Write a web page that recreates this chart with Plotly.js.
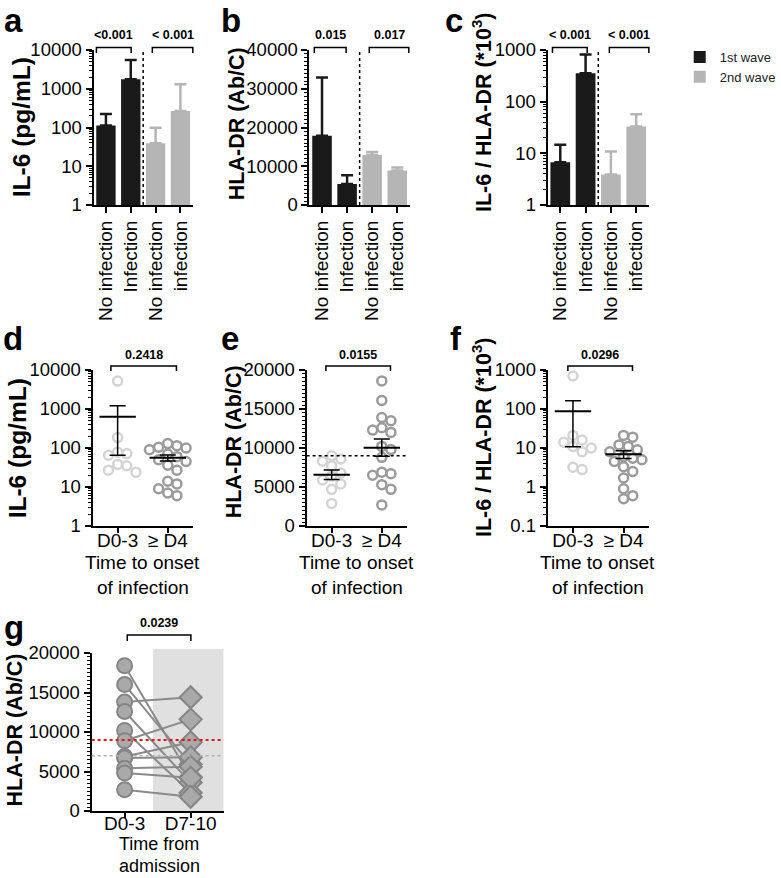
<!DOCTYPE html>
<html><head><meta charset="utf-8">
<script src="https://cdn.plot.ly/plotly-3.0.1.min.js"></script>
<style>html,body{margin:0;padding:0;background:#fff}</style>
</head><body><div id="chart" style="width:781px;height:878px"></div>
<script>
// ================= DATA =================
const barCategories = ['No infection', 'Infection', 'No infection', 'infection'];
const waveNames = ['1st wave', '2nd wave'];
// a: IL-6 (pg/mL), bar = mean, error = upper SD
const il6Wave1 = [112, 1750];
const il6Wave1Err = [110, 3750];
const il6Wave2 = [39, 267];
const il6Wave2Err = [60, 1030];
// b: HLA-DR (Ab/C)
const hlaWave1 = [17900, 5400];
const hlaWave1Err = [15000, 2300];
const hlaWave2 = [12900, 8900];
const hlaWave2Err = [800, 750];
// c: IL-6 / HLA-DR (*10^3)
const ratioWave1 = [6.7, 355];
const ratioWave1Err = [8, 460];
const ratioWave2 = [3.9, 33];
const ratioWave2Err = [7, 24];
const barPValues = {a: ['<0.001', '< 0.001'], b: ['0.015', '0.017'], c: ['< 0.001', '< 0.001']};

// d-f: time to onset of infection
const onsetCategories = ['D0-3', '≥ D4'];
const il6OnsetD03 = [5200, 185, 78, 72, 65, 38, 35, 27, 24];
const il6OnsetD4 = [130, 115, 105, 100, 90, 80, 70, 60, 50, 45, 36, 27, 14, 12, 9, 7, 6];
const hlaOnsetD03 = [9000, 8600, 8300, 7700, 6800, 6400, 5900, 5400, 4700, 2900];
const hlaOnsetD4 = [18600, 16100, 13900, 13500, 12600, 12300, 12000, 10200, 9800, 8800, 6900, 6700, 6500, 5300, 4700, 2700];
const ratioOnsetD03 = [700, 21, 16, 14, 11, 10, 8, 3.2, 2.8];
const ratioOnsetD4 = [21, 19, 12, 11, 9, 8, 6, 5.5, 5, 4.5, 3.3, 2.5, 1.7, 0.9, 0.6, 0.5];
const hlaOnsetThreshold = 9000;
const onsetPValues = {d: '0.2418', e: '0.0155', f: '0.0296'};

// g: paired, time from admission
const admissionCategories = ['D0-3', 'D7-10'];
const hlaAdmD03 = [18400, 16000, 13800, 12600, 10200, 8900, 6900, 6700, 5400, 4800, 2700];
const hlaAdmD710 = [4300, 5900, 14400, 3600, 2300, 11600, 8700, 6800, 5600, 4200, 1800];
const hlaRedThreshold = 9000;
const hlaGrayThreshold = 7000;
const admissionPValue = '0.0239';

// tick labels
const logTickVals = [0.1, 1, 10, 100, 1000, 10000];
const logTickText = ['0.1', '1', '10', '100', '1000', '10000'];

// ================= LAYOUT HELPERS =================
const W = 781, H = 878;
const px = x => x / W;
const py = y => 1 - y / H;
const xd = (l, r) => [px(l), px(r)];
const yd = (t, b) => [py(b), py(t)];
const FONT = '"Liberation Sans", Arial, Helvetica, sans-serif';
const BLACK = '#1a1a1a', GRAY = '#b5b5b5', LIGHT = '#d4d4d4', MID = '#9b9b9b';

function logMinor(lo, hi) {
  const out = [];
  for (let e = lo; e < hi; e++) for (let m = 2; m <= 9; m++) out.push(m * Math.pow(10, e));
  return out;
}
function baseAx(extra) {
  return Object.assign({showline: true, linecolor: '#000', linewidth: 2, ticks: 'outside', ticklen: 6,
    tickwidth: 2, tickcolor: '#000', showgrid: false, zeroline: false, fixedrange: true,
    tickfont: {size: 18.5, color: '#000', family: FONT}}, extra);
}
function logY(dom, anchor, lo, hi) {
  const tv = [], tt = [];
  logTickVals.forEach((v, i) => { const e = Math.log10(v); if (e >= lo - 1e-9 && e <= hi + 1e-9) { tv.push(v); tt.push(logTickText[i]); } });
  return baseAx({domain: dom, anchor, type: 'log', range: [lo, hi], tickmode: 'array', tickvals: tv, ticktext: tt,
    minor: {tickmode: 'array', tickvals: logMinor(lo, hi), ticks: 'outside', ticklen: 3, tickwidth: 1, tickcolor: '#000', showgrid: false}});
}
function linY(dom, anchor, top, dtick, mdtick) {
  return baseAx({domain: dom, anchor, range: [0, top], dtick, tick0: 0, tickformat: 'd',
    minor: {dtick: mdtick, tick0: 0, ticks: 'outside', ticklen: 3, tickwidth: 1, tickcolor: '#000', showgrid: false}});
}
function catX(dom, anchor, labels, extra) {
  return baseAx(Object.assign({domain: dom, anchor, range: [-0.5, labels.length - 0.5], tickmode: 'array',
    tickvals: labels.map((_, i) => i), ticktext: labels, tickfont: {size: 19, color: '#000', family: FONT}}, extra));
}

const mean = a => a.reduce((s, v) => s + v, 0) / a.length;
const sem = a => { const m = mean(a); return Math.sqrt(a.reduce((s, v) => s + (v - m) * (v - m), 0) / (a.length - 1)) / Math.sqrt(a.length); };

function swarm(values, center, toPx, unitPx, diam) {
  const order = values.map((v, i) => i).sort((a, b) => values[b] - values[a]);
  const placed = [], xs = new Array(values.length), step = diam * 0.5;
  for (const i of order) {
    const y = toPx(values[i]);
    let off = 0;
    for (let k = 0; k < 60; k++) {
      const cand = (k % 2 === 1 ? 1 : -1) * Math.ceil(k / 2) * step;
      if (placed.every(p => (p.x - cand) ** 2 + (p.y - y) ** 2 >= diam * diam)) { off = cand; break; }
    }
    placed.push({x: off, y});
    xs[i] = center + off / unitPx;
  }
  return xs;
}

// ================= PANEL GEOMETRY (px) =================
const G = {
  a: {x: [97, 200], y: [50, 205]}, b: {x: [321, 425], y: [50, 205]}, c: {x: [568, 673], y: [50, 205]},
  d: {x: [96, 200], y: [370, 526]}, e: {x: [318, 422], y: [370, 526]}, f: {x: [568, 673], y: [370, 526]},
  g: {x: [95, 232], y: [653, 811]}
};
const lowX = {ticklabelstandoff: -9, ticklen: 5};

const layout = {
  width: W, height: H, margin: {l: 0, r: 0, t: 0, b: 0}, paper_bgcolor: '#fff', plot_bgcolor: 'rgba(0,0,0,0)',
  font: {family: FONT, color: '#000'}, barmode: 'overlay', showlegend: true,
  legend: {x: px(705), y: py(42), xanchor: 'left', yanchor: 'top', font: {size: 13, color: '#222', family: FONT},
    bgcolor: 'rgba(0,0,0,0)', tracegroupgap: 0, itemwidth: 30},
  xaxis: catX(xd(...G.a.x), 'y', barCategories, {tickangle: -90}),
  yaxis: logY(yd(...G.a.y), 'x', 0, 4),
  xaxis2: catX(xd(...G.b.x), 'y2', barCategories, {tickangle: -90}),
  yaxis2: linY(yd(...G.b.y), 'x2', 40000, 10000, 1000),
  xaxis3: catX(xd(...G.c.x), 'y3', barCategories, {tickangle: -90}),
  yaxis3: logY(yd(...G.c.y), 'x3', 0, 3),
  xaxis4: catX(xd(...G.d.x), 'y4', onsetCategories, lowX),
  yaxis4: logY(yd(...G.d.y), 'x4', 0, 4),
  xaxis5: catX(xd(...G.e.x), 'y5', onsetCategories, lowX),
  yaxis5: linY(yd(...G.e.y), 'x5', 20000, 5000, 500),
  xaxis6: catX(xd(...G.f.x), 'y6', onsetCategories, lowX),
  yaxis6: logY(yd(...G.f.y), 'x6', -1, 3),
  xaxis7: catX(xd(...G.g.x), 'y7', admissionCategories, {ticklabelstandoff: -11, ticklen: 5}),
  yaxis7: linY(yd(...G.g.y), 'x7', 20000, 5000, 500),
  shapes: [], annotations: []
};

// ================= TRACES =================
const traces = [];
function bars(xa, ya, w1, e1, w2, e2, leg) {
  const idx = barCategories.map((_, i) => i);
  [[w1, e1, BLACK, idx.slice(0, 2), waveNames[0]], [w2, e2, GRAY, idx.slice(2, 4), waveNames[1]]].forEach(([v, e, col, xs, nm]) => {
    traces.push({type: 'bar', x: xs, y: v, xaxis: xa, yaxis: ya, width: 0.78, name: nm, legendgroup: nm, showlegend: leg,
      marker: {color: col, line: {width: 0}}, hoverinfo: 'skip',
      error_y: {type: 'data', symmetric: false, array: e, arrayminus: e.map(() => 0), color: col, thickness: 2.5, width: 6}});
  });
}
bars('x', 'y', il6Wave1, il6Wave1Err, il6Wave2, il6Wave2Err, false);
bars('x2', 'y2', hlaWave1, hlaWave1Err, hlaWave2, hlaWave2Err, false);
bars('x3', 'y3', ratioWave1, ratioWave1Err, ratioWave2, ratioWave2Err, true);

function onset(key, xa, ya, d03, d4, isLog, lo, hi) {
  const g = G[key];
  const unitX = (g.x[1] - g.x[0]) / 2;
  const hpx = g.y[1] - g.y[0];
  const toPx = isLog ? (v => Math.log10(v) * hpx / (hi - lo)) : (v => v * hpx / (hi - lo));
  [[d03, 0, LIGHT], [d4, 1, MID]].forEach(([vals, c, col]) => {
    traces.push({type: 'scatter', mode: 'markers', x: swarm(vals, c, toPx, unitX, 9.5), y: vals, xaxis: xa, yaxis: ya,
      showlegend: false, hoverinfo: 'skip', cliponaxis: false,
      marker: {symbol: 'circle-open', size: 9, color: col, line: {width: 2.5, color: col}}});
  });
  [[d03, 0], [d4, 1]].forEach(([vals, c]) => {
    traces.push({type: 'scatter', mode: 'markers', x: [c], y: [mean(vals)], xaxis: xa, yaxis: ya, showlegend: false, hoverinfo: 'skip',
      marker: {symbol: 'line-ew-open', size: 26, color: '#000', line: {width: 2, color: '#000'}},
      error_y: {type: 'data', array: [sem(vals)], color: '#000', thickness: 1.5, width: 8}});
  });
}
onset('d', 'x4', 'y4', il6OnsetD03, il6OnsetD4, true, 0, 4);
onset('e', 'x5', 'y5', hlaOnsetD03, hlaOnsetD4, false, 0, 20000);
onset('f', 'x6', 'y6', ratioOnsetD03, ratioOnsetD4, true, -1, 3);

// g: paired lines + markers
const pairX = [], pairY = [];
hlaAdmD03.forEach((v, i) => { pairX.push(0, 1, null); pairY.push(v, hlaAdmD710[i], null); });
traces.push({type: 'scatter', mode: 'lines', x: pairX, y: pairY, xaxis: 'x7', yaxis: 'y7', showlegend: false, hoverinfo: 'skip',
  line: {color: '#8a8a8a', width: 2}});
traces.push({type: 'scatter', mode: 'markers', x: hlaAdmD03.map(() => 0), y: hlaAdmD03, xaxis: 'x7', yaxis: 'y7', showlegend: false, hoverinfo: 'skip',
  cliponaxis: false, marker: {symbol: 'circle', size: 15, color: '#a9a9a9', line: {color: '#858585', width: 2}}});
traces.push({type: 'scatter', mode: 'markers', x: hlaAdmD710.map(() => 1), y: hlaAdmD710, xaxis: 'x7', yaxis: 'y7', showlegend: false, hoverinfo: 'skip',
  cliponaxis: false, marker: {symbol: 'diamond', size: 17, color: '#a9a9a9', line: {color: '#858585', width: 2}}});

// ================= SHAPES & ANNOTATIONS =================
const S = layout.shapes, A = layout.annotations;
[['x', 'y'], ['x2', 'y2'], ['x3', 'y3']].forEach(([xa, ya]) => {
  S.push({type: 'line', xref: xa, yref: ya + ' domain', x0: 1.5, x1: 1.5, y0: 0, y1: 1, line: {color: '#000', width: 1.5, dash: 'dot'}});
});
S.push({type: 'line', xref: 'x5 domain', yref: 'y5', x0: 0, x1: 1, y0: hlaOnsetThreshold, y1: hlaOnsetThreshold, line: {color: '#000', width: 1.5, dash: 'dot'}});
S.push({type: 'rect', xref: 'x7', yref: 'paper', x0: 0.43, x1: 1.5, y0: py(811), y1: py(649), fillcolor: '#e0e0e0', line: {width: 0}, layer: 'below'});
S.push({type: 'line', xref: 'x7 domain', yref: 'y7', x0: 0, x1: 1, y0: hlaGrayThreshold, y1: hlaGrayThreshold, line: {color: '#b0b0b0', width: 1.5, dash: 'dot'}});
S.push({type: 'line', xref: 'x7 domain', yref: 'y7', x0: 0, x1: 1, y0: hlaRedThreshold, y1: hlaRedThreshold, line: {color: '#e8141c', width: 2, dash: 'dot'}});

function bracket(x0, x1, yl, yend, label, ytext) {
  S.push({type: 'path', xref: 'paper', yref: 'paper', line: {color: '#000', width: 1.5},
    path: `M${px(x0)},${py(yend)} L${px(x0)},${py(yl)} L${px(x1)},${py(yl)} L${px(x1)},${py(yend)}`});
  A.push({xref: 'paper', yref: 'paper', x: px((x0 + x1) / 2), y: py(ytext), text: '<b>' + label + '</b>', showarrow: false,
    xanchor: 'center', yanchor: 'middle', font: {size: 12.5, color: '#000'}});
}
bracket(100, 136, 47.5, 53, barPValues.a[0], 35); bracket(158, 200, 47.5, 53, barPValues.a[1], 35);
bracket(326, 359, 47.5, 53, barPValues.b[0], 35); bracket(383, 424, 47.5, 53, barPValues.b[1], 35);
bracket(573, 609, 47.5, 53, barPValues.c[0], 35); bracket(632, 673, 47.5, 53, barPValues.c[1], 35);
bracket(115, 183, 366, 371, onsetPValues.d, 355);
bracket(338, 405, 366, 371, onsetPValues.e, 355);
bracket(589, 656, 366, 371, onsetPValues.f, 355);
bracket(132, 198, 635, 641, admissionPValue, 623);

function txt(x, y, text, size, extra) {
  A.push(Object.assign({xref: 'paper', yref: 'paper', x: px(x), y: py(y), text, showarrow: false, xanchor: 'center', yanchor: 'middle',
    font: {size, color: '#000'}}, extra || {}));
}
// panel letters (top-anchored)
[['a', 14, 0], ['b', 240, 0], ['c', 471, 0], ['d', 13, 318], ['e', 239, 318], ['f', 473, 318], ['g', 15, 607]]
  .forEach(([l, x, y]) => txt(x, y, '<b>' + l + '</b>', 33, {yanchor: 'top'}));
// y titles
const il6Title = '<b>IL-6 (pg/mL)</b>', hlaTitle = '<b>HLA-DR (Ab/C)</b>', ratioTitle = '<b>IL-6 / HLA-DR (*10<sup>3</sup>)</b>';
txt(22, 127, il6Title, 24.5, {textangle: -90});
txt(246, 124, hlaTitle, 21.5, {textangle: -90});
txt(500, 112, ratioTitle, 21.5, {textangle: -90});
txt(18, 448, il6Title, 24.5, {textangle: -90});
txt(243, 442, hlaTitle, 21.5, {textangle: -90});
txt(500, 437, ratioTitle, 21.5, {textangle: -90});
txt(16, 730, hlaTitle, 21.5, {textangle: -90});
// x titles
[148, 370, 620].forEach(x => { txt(x, 562, 'Time to onset', 19); txt(x, 587, 'of infection', 19); });
txt(165, 844, 'Time from', 18); txt(165, 866, 'admission', 18);

Plotly.newPlot('chart', traces, layout, {staticPlot: true, displayModeBar: false});
</script></body></html>
